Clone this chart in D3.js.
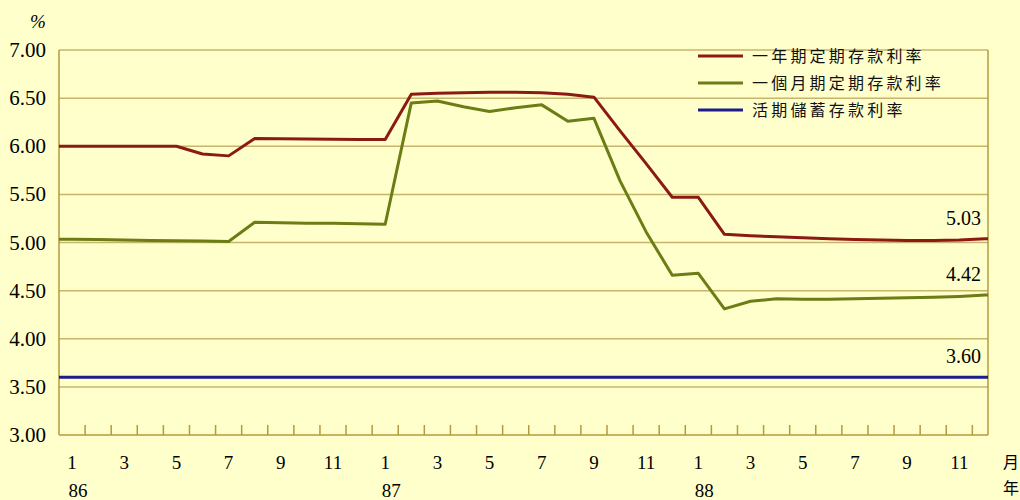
<!DOCTYPE html>
<html>
<head>
<meta charset="utf-8">
<script src="https://cdn.jsdelivr.net/npm/d3@7"></script>
<style>
  body { margin: 0; background: #FFFFCC; }
  svg { display: block; }
</style>
</head>
<body>
<div id="chart"></div>
<script>
// months from 86/1 to 88/12
const months = d3.range(36);
const monthLabels = [1, 3, 5, 7, 9, 11, 1, 3, 5, 7, 9, 11, 1, 3, 5, 7, 9, 11];
const yearLabels = ["86", "87", "88"];
const yTicks = [3.0, 3.5, 4.0, 4.5, 5.0, 5.5, 6.0, 6.5, 7.0];

// 一年期定期存款利率
const oneYear = [6.00, 6.00, 6.00, 6.00, 6.00, 5.92, 5.90, 6.08, 6.078, 6.075, 6.072, 6.07,
  6.07, 6.54, 6.55, 6.555, 6.56, 6.56, 6.555, 6.54, 6.51, 6.16, 5.82, 5.47,
  5.47, 5.085, 5.07, 5.06, 5.05, 5.04, 5.03, 5.025, 5.02, 5.02, 5.025, 5.04];
// 一個月期定期存款利率
const oneMonth = [5.035, 5.03, 5.025, 5.02, 5.018, 5.015, 5.01, 5.21, 5.205, 5.20, 5.20, 5.195,
  5.19, 6.45, 6.47, 6.41, 6.36, 6.40, 6.43, 6.26, 6.29, 5.64, 5.11, 4.66,
  4.68, 4.31, 4.39, 4.415, 4.41, 4.41, 4.415, 4.42, 4.425, 4.43, 4.44, 4.455];
// 活期儲蓄存款利率
const savings = months.map(() => 3.60);

const seriesNames = ["一年期定期存款利率", "一個月期定期存款利率", "活期儲蓄存款利率"];
const endLabels = ["5.03", "4.42", "3.60"];

const colors = ["#8B1A14", "#6B7D14", "#1C1C8C"];
const allSeries = [oneYear, oneMonth, savings];

const width = 1020, height = 500;
const plotL = 59, plotR = 988, plotT = 50, plotB = 435;
const serif = "'Liberation Serif', 'Times New Roman', serif";
const cjk = "'Noto Sans CJK TC', sans-serif";

const svg = d3.select("#chart").append("svg")
  .attr("width", width)
  .attr("height", height);

svg.append("rect").attr("width", width).attr("height", height).attr("fill", "#FFFFCC");

const x = d3.scaleLinear().domain([0, 35.6]).range([plotL, plotR]);
const y = d3.scaleLinear().domain([3, 7]).range([plotB, plotT]);

const gridColor = "#C8B46A";
const axisColor = "#B49A3C";

// grid
svg.append("g").selectAll("line")
  .data(yTicks.slice(1))
  .enter().append("line")
  .attr("x1", plotL).attr("x2", plotR)
  .attr("y1", d => y(d)).attr("y2", d => y(d))
  .attr("stroke", gridColor).attr("stroke-width", 1.5);

// y labels
svg.append("g").selectAll("text")
  .data(yTicks)
  .enter().append("text")
  .attr("x", 46).attr("y", d => y(d) + 7)
  .attr("text-anchor", "end")
  .style("font-family", serif)
  .attr("font-size", 21)
  .attr("fill", "#000")
  .text(d => d.toFixed(2));

svg.append("text")
  .attr("x", 38).attr("y", 28)
  .attr("text-anchor", "middle")
  .style("font-family", serif)
  .attr("font-style", "italic")
  .attr("font-size", 19)
  .text("%");

// frame
svg.append("line").attr("x1", plotL).attr("x2", plotL).attr("y1", plotT).attr("y2", plotB)
  .attr("stroke", axisColor).attr("stroke-width", 1.5);
svg.append("line").attr("x1", plotR).attr("x2", plotR).attr("y1", plotT).attr("y2", plotB)
  .attr("stroke", axisColor).attr("stroke-width", 1.5);
svg.append("line").attr("x1", plotL).attr("x2", plotR).attr("y1", plotB).attr("y2", plotB)
  .attr("stroke", axisColor).attr("stroke-width", 1.5);

// ticks
svg.append("g").selectAll("line")
  .data(d3.range(1, 36))
  .enter().append("line")
  .attr("x1", d => x(d)).attr("x2", d => x(d))
  .attr("y1", plotB - 10).attr("y2", plotB)
  .attr("stroke", axisColor).attr("stroke-width", 1.5);

// month labels
svg.append("g").selectAll("text")
  .data(monthLabels)
  .enter().append("text")
  .attr("x", (d, i) => x(i * 2 + 0.5))
  .attr("y", 469)
  .attr("text-anchor", "middle")
  .style("font-family", serif)
  .attr("font-size", 19)
  .text(d => d);

svg.append("g").selectAll("text")
  .data(yearLabels)
  .enter().append("text")
  .attr("x", (d, i) => x(i * 12 + 0.5) + 6)
  .attr("y", 497)
  .attr("text-anchor", "middle")
  .style("font-family", serif)
  .attr("font-size", 19)
  .text(d => d);

svg.append("text").attr("x", 1011).attr("y", 468)
  .attr("text-anchor", "middle")
  .style("font-family", cjk)
  .attr("font-size", 16).text("月");
svg.append("text").attr("x", 1011).attr("y", 494)
  .attr("text-anchor", "middle")
  .style("font-family", cjk)
  .attr("font-size", 16).text("年");

// lines
const line = d3.line()
  .x(d => x(d[0]))
  .y(d => y(d[1]));

allSeries.forEach((vals, k) => {
  const pts = vals.map((v, i) => [i + 0.5, v]);
  pts.unshift([0, vals[0]]);
  pts.push([35.6, vals[vals.length - 1]]);
  svg.append("path")
    .datum(pts)
    .attr("d", line)
    .attr("fill", "none")
    .attr("stroke", colors[k])
    .attr("stroke-width", 3)
    .attr("stroke-linejoin", "round");
});

// end labels
svg.append("g").selectAll("text")
  .data(allSeries)
  .enter().append("text")
  .attr("x", 981)
  .attr("y", (d, i) => y(d[d.length - 1]) - 14)
  .attr("text-anchor", "end")
  .style("font-family", serif)
  .attr("font-size", 20)
  .text((d, i) => endLabels[i]);

// legend
const legend = svg.append("g").attr("transform", "translate(698,56)");
const lg = legend.selectAll("g")
  .data(seriesNames)
  .enter().append("g")
  .attr("transform", (d, i) => "translate(0," + i * 27 + ")");
lg.append("line")
  .attr("x1", 0).attr("x2", 45)
  .attr("stroke", (d, i) => colors[i])
  .attr("stroke-width", 3);
lg.append("text")
  .attr("x", 54).attr("y", 6)
  .style("font-family", cjk)
  .attr("font-size", 16)
  .attr("letter-spacing", 3.2)
  .attr("fill", "#111")
  .text(d => d);
</script>
</body>
</html>
